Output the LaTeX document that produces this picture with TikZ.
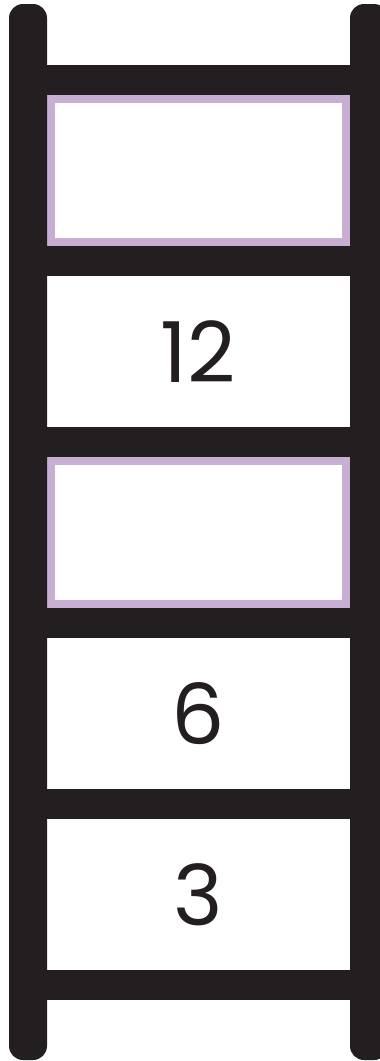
\documentclass[tikz,border=0pt]{standalone}
\usepackage{fontspec}
\setmainfont{Poppins}
\usetikzlibrary{positioning}
\definecolor{ink}{HTML}{231F20}
\definecolor{lilac}{HTML}{C9AED3}

\begin{document}
\begin{tikzpicture}[
  x=1pt, y=-1pt,
  rail/.style={fill=ink, rounded corners=14pt},
  rung/.style={fill=ink, minimum width=303pt, minimum height=30pt, inner sep=0pt, outer sep=0pt},
  cell/.style={minimum width=303pt, minimum height=151pt, inner sep=0pt, outer sep=0pt,
    text=ink, font=\fontsize{84}{84}\selectfont},
  blank/.style={cell, draw=lilac, line width=8pt, minimum width=295pt, minimum height=143pt, outer sep=4pt}
]
\useasboundingbox (0,0) rectangle (380,1061);

% rungs and the cells between them
\node[rung] (rung0) at (198.5,80) {};
\node[blank, below=0pt of rung0] (cell1) {};
\node[rung, below=0pt of cell1] (rung1) {};
\node[cell, below=0pt of rung1] (cell2) {12};
\node[rung, below=0pt of cell2] (rung2) {};
\node[blank, below=0pt of rung2] (cell3) {};
\node[rung, below=0pt of cell3] (rung3) {};
\node[cell, below=0pt of rung3] (cell4) {6};
\node[rung, below=0pt of cell4] (rung4) {};
\node[cell, below=0pt of rung4] (cell5) {3};
\node[rung, below=0pt of cell5] (rung5) {};

% rails
\fill[rail] (9,4) rectangle (47,1060);
\fill[rail] (350,4) rectangle (388,1060);

\end{tikzpicture}
\end{document}
